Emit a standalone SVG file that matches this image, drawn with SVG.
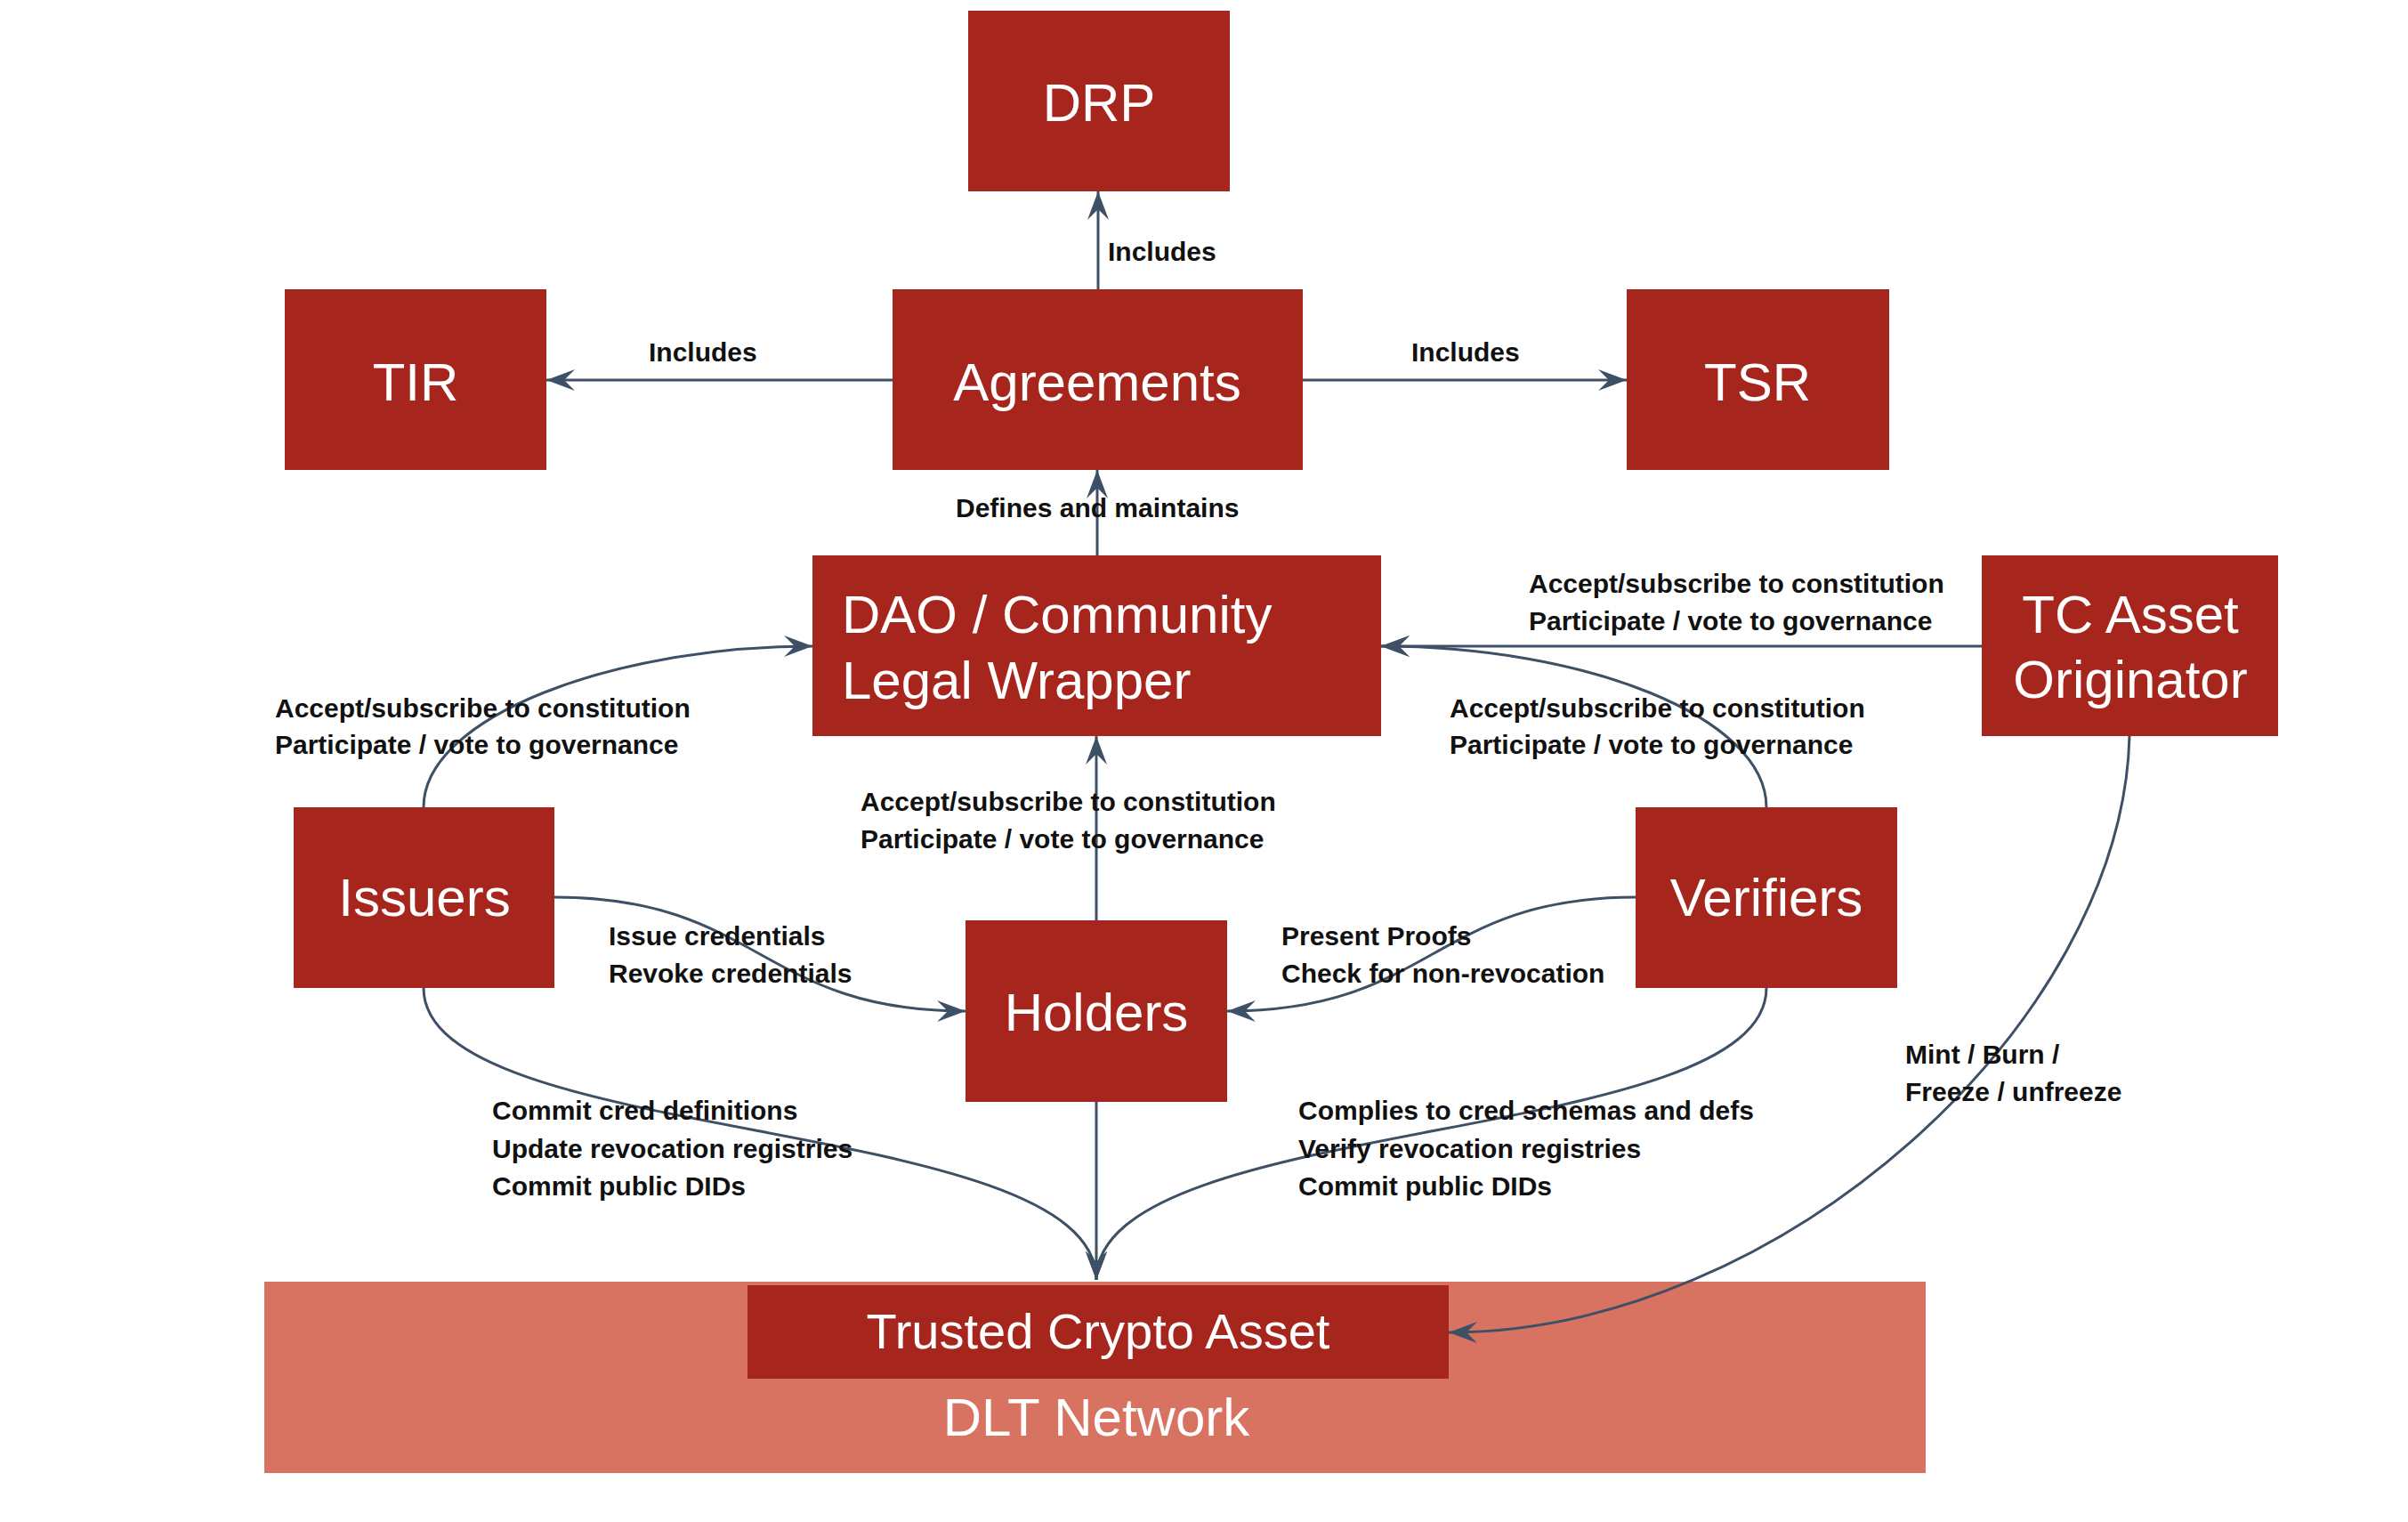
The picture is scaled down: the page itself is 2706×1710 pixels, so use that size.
<svg xmlns="http://www.w3.org/2000/svg" width="2706" height="1710" viewBox="0 0 2706 1710">
  <defs>
    <marker id="arr" viewBox="-33 -13 35 26" refX="0" refY="0" markerWidth="35" markerHeight="26" markerUnits="userSpaceOnUse" orient="auto">
      <path d="M0,0 L-32,-12 L-20,0 L-32,12 Z" fill="#3E5066"/>
    </marker>
  </defs>
  <style>
    .node { fill: #A6261D; }
    .net { fill: #D87361; }
    .nt { font-family: "Liberation Sans", Arial, sans-serif; font-size: 60px; fill: #FFFFFF; text-anchor: middle; }
    .ntl { font-family: "Liberation Sans", Arial, sans-serif; font-size: 60px; fill: #FFFFFF; }
    .lbl { font-family: "Liberation Sans", Arial, sans-serif; font-size: 30px; font-weight: bold; fill: #111111; }
    .con { fill: none; stroke: #3E5066; stroke-width: 3; marker-end: url(#arr); }
  </style>
  <rect width="2706" height="1710" fill="#FFFFFF"/>

  <g id="dlt-network">
    <rect class="net" x="297" y="1440" width="1867" height="215"/>
    <text class="nt" x="1232" y="1613">DLT Network</text>
  </g>
  <g id="trusted-crypto-asset">
    <rect class="node" x="840" y="1444" width="788" height="105"/>
    <text class="nt" x="1234" y="1515" style="font-size:56px">Trusted Crypto Asset</text>
  </g>
  <g id="drp">
    <rect class="node" x="1088" y="12" width="294" height="203"/>
    <text class="nt" x="1235" y="136">DRP</text>
  </g>
  <g id="tir">
    <rect class="node" x="320" y="325" width="294" height="203"/>
    <text class="nt" x="467" y="450">TIR</text>
  </g>
  <g id="agreements">
    <rect class="node" x="1003" y="325" width="461" height="203"/>
    <text class="nt" x="1233" y="450">Agreements</text>
  </g>
  <g id="tsr">
    <rect class="node" x="1828" y="325" width="295" height="203"/>
    <text class="nt" x="1975" y="450">TSR</text>
  </g>
  <g id="dao">
    <rect class="node" x="913" y="624" width="639" height="203"/>
    <text class="ntl" x="946" y="711">DAO / Community</text>
    <text class="ntl" x="946" y="785">Legal Wrapper</text>
  </g>
  <g id="tc-asset-originator">
    <rect class="node" x="2227" y="624" width="333" height="203"/>
    <text class="nt" x="2394" y="711">TC Asset</text>
    <text class="nt" x="2394" y="784">Originator</text>
  </g>
  <g id="issuers">
    <rect class="node" x="330" y="907" width="293" height="203"/>
    <text class="nt" x="477" y="1029">Issuers</text>
  </g>
  <g id="holders">
    <rect class="node" x="1085" y="1034" width="294" height="204"/>
    <text class="nt" x="1232" y="1158">Holders</text>
  </g>
  <g id="verifiers">
    <rect class="node" x="1838" y="907" width="294" height="203"/>
    <text class="nt" x="1985" y="1029">Verifiers</text>
  </g>

  <g id="connectors">
    <path class="con" d="M1234,325 L1234,215"/>
    <path class="con" d="M1003,427 L614,427"/>
    <path class="con" d="M1464,427 L1828,427"/>
    <path class="con" d="M1233,624 L1233,528"/>
    <path class="con" d="M2227,726 L1552,726"/>
    <path class="con" d="M476,907 C476,805 690,726 913,726"/>
    <path class="con" d="M1985,907 C1985,805 1780,726 1552,726"/>
    <path class="con" d="M1232,1034 L1232,827"/>
    <path class="con" d="M623,1008 C854,1008 854,1136 1085,1136"/>
    <path class="con" d="M1838,1008 C1610,1008 1610,1136 1379,1136"/>
    <path class="con" d="M476,1110 C476,1290 1232,1250 1232,1438"/>
    <path class="con" d="M1985,1110 C1985,1290 1232,1250 1232,1438"/>
    <path class="con" d="M1232,1238 L1232,1438"/>
    <path class="con" d="M2393,827 C2385,1150 2000,1497 1628,1497"/>
  </g>

  <g id="labels">
    <text class="lbl" x="1245" y="293">Includes</text>
    <text class="lbl" x="729" y="406">Includes</text>
    <text class="lbl" x="1586" y="406">Includes</text>
    <text class="lbl" x="1074" y="581">Defines and maintains</text>
    <text class="lbl" x="1718" y="666">Accept/subscribe to constitution</text>
    <text class="lbl" x="1718" y="708">Participate / vote to governance</text>
    <text class="lbl" x="309" y="806">Accept/subscribe to constitution</text>
    <text class="lbl" x="309" y="847">Participate / vote to governance</text>
    <text class="lbl" x="1629" y="806">Accept/subscribe to constitution</text>
    <text class="lbl" x="1629" y="847">Participate / vote to governance</text>
    <text class="lbl" x="967" y="911">Accept/subscribe to constitution</text>
    <text class="lbl" x="967" y="953">Participate / vote to governance</text>
    <text class="lbl" x="684" y="1062">Issue credentials</text>
    <text class="lbl" x="684" y="1104">Revoke credentials</text>
    <text class="lbl" x="1440" y="1062">Present Proofs</text>
    <text class="lbl" x="1440" y="1104">Check for non-revocation</text>
    <text class="lbl" x="2141" y="1195">Mint / Burn /</text>
    <text class="lbl" x="2141" y="1237">Freeze / unfreeze</text>
    <text class="lbl" x="553" y="1258">Commit cred definitions</text>
    <text class="lbl" x="553" y="1301">Update revocation registries</text>
    <text class="lbl" x="553" y="1343">Commit public DIDs</text>
    <text class="lbl" x="1459" y="1258">Complies to cred schemas and defs</text>
    <text class="lbl" x="1459" y="1301">Verify revocation registries</text>
    <text class="lbl" x="1459" y="1343">Commit public DIDs</text>
  </g>
</svg>
